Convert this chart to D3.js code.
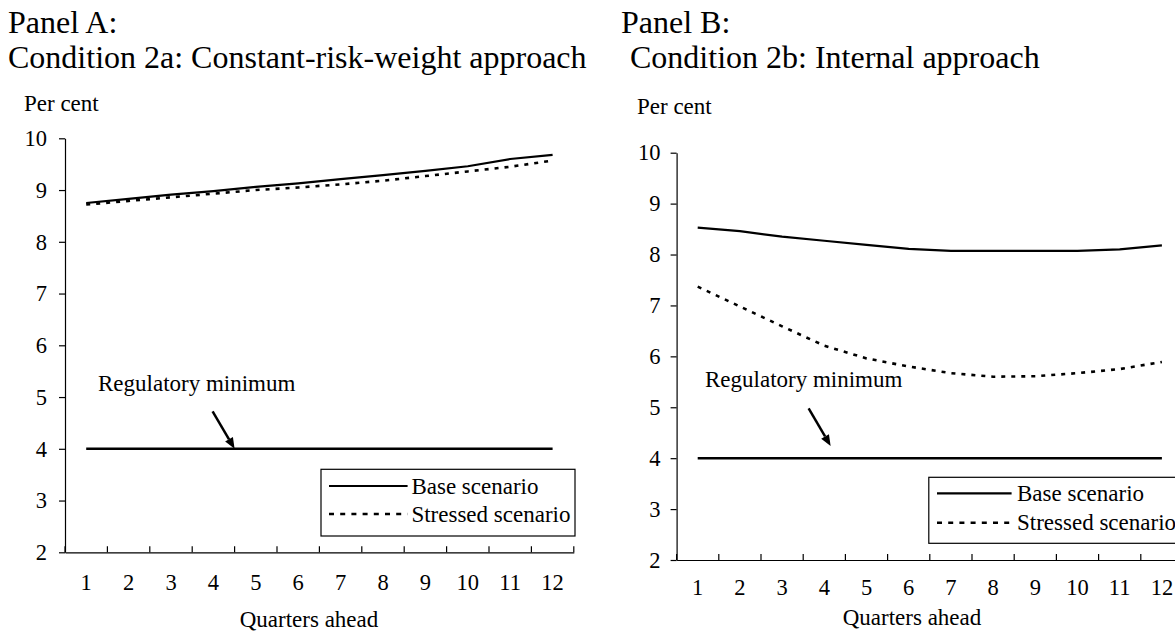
<!DOCTYPE html>
<html>
<head>
<meta charset="utf-8">
<script src="https://cdn.jsdelivr.net/npm/d3@7"></script>
<style>
  html, body { margin: 0; padding: 0; background: #fff; }
  svg { display: block; }
  text { font-family: "Liberation Serif", "Times New Roman", serif; fill: #000; }
</style>
</head>
<body>
<svg id="chart" width="1175" height="632"></svg>
<script>
// ---------------- data ----------------
const quarters = [1, 2, 3, 4, 5, 6, 7, 8, 9, 10, 11, 12];
const yTicks = [2, 3, 4, 5, 6, 7, 8, 9, 10];

const panelTitles = ["Panel A:", "Panel B:"];
const panelSubtitles = ["Condition 2a: Constant-risk-weight approach", "Condition 2b: Internal approach"];

// Panel A: constant-risk-weight approach
const baseA     = [8.75, 8.83, 8.91, 8.98, 9.06, 9.13, 9.21, 9.29, 9.37, 9.46, 9.60, 9.68];
const stressedA = [8.72, 8.79, 8.86, 8.93, 9.00, 9.05, 9.11, 9.18, 9.27, 9.36, 9.45, 9.57];
// Panel B: internal approach
const baseB     = [8.53, 8.46, 8.35, 8.27, 8.19, 8.11, 8.07, 8.07, 8.07, 8.07, 8.10, 8.18];
const stressedB = [7.37, 6.98, 6.59, 6.21, 5.96, 5.80, 5.67, 5.60, 5.61, 5.67, 5.75, 5.89];
// Regulatory minimum (both panels)
const regMin    = [4, 4, 4, 4, 4, 4, 4, 4, 4, 4, 4, 4];

const legendLabels = ["Base scenario", "Stressed scenario"];
const annotationLabel = "Regulatory minimum";
// arrow tip: [quarter position (band units from left edge), value]
const arrowTipA = [4.0, 4.0];
const arrowTipB = [3.65, 4.24];

// ---------------- layout ----------------
const svg = d3.select("#chart");

const panels = [
  {
    title: panelTitles[0], subtitle: panelSubtitles[0],
    titleX: 8, subX: 8,
    x0: 65, bw: 42.4, yTop: 138.3, yBot: 552.3,
    base: baseA, stressed: stressedA, tip: arrowTipA,
    tickPad: 12, xLabelDy: 33, xTitleY: 619, xTitleX: 309, perX: 24, perY: 103,
    regX: 98, regY: 391,
    legend: { x: 321, y: 469.3, w: 254, h: 66.7, l1: 486, l2: 514, lx0: 329, lx1: 407.6, tx: 411.4 }
  },
  {
    title: panelTitles[1], subtitle: panelSubtitles[1],
    titleX: 621, subX: 630,
    x0: 676.6, bw: 42.2, yTop: 152.7, yBot: 560,
    base: baseB, stressed: stressedB, tip: arrowTipB,
    tickPad: 10, xLabelDy: 30, xTitleY: 617, xTitleX: 912, perX: 637, perY: 106,
    regX: 705, regY: 387,
    legend: { x: 928.8, y: 477.3, w: 280, h: 66, l1: 493.3, l2: 522.7, lx0: 937, lx1: 1011.6, tx: 1017 }
  }
];

panels.forEach(p => {
  const g = svg.append("g");

  // titles
  g.append("text").attr("x", p.titleX).attr("y", 33).attr("font-size", 32).text(p.title);
  g.append("text").attr("x", p.subX).attr("y", 68).attr("font-size", 32).text(p.subtitle);

  const x = d3.scaleBand().domain(quarters).range([p.x0, p.x0 + p.bw * quarters.length]).padding(0);
  const y = d3.scaleLinear().domain([2, 10]).range([p.yBot, p.yTop]);
  const cx = q => x(q) + x.bandwidth() / 2;

  // y axis
  const yAxis = d3.axisLeft(y).tickValues(yTicks).tickSize(6).tickSizeOuter(0).tickPadding(p.tickPad);
  const yg = g.append("g").attr("transform", `translate(${p.x0},0)`).call(yAxis);
  yg.select(".domain").attr("stroke", "#000").attr("stroke-width", 1.2);
  yg.selectAll(".tick line").attr("stroke", "#000").attr("stroke-width", 1.2);
  yg.selectAll(".tick text").attr("font-size", 22.5).attr("font-family", "Liberation Serif").attr("fill", "#000");

  // x axis: labels at band centres, tick marks at band boundaries pointing up
  const xAxis = d3.axisBottom(x).tickSize(0).tickSizeOuter(0).tickPadding(p.xLabelDy - 11);
  const xg = g.append("g").attr("transform", `translate(0,${p.yBot})`).call(xAxis);
  xg.select(".domain").attr("stroke", "#000").attr("stroke-width", 1.2);
  xg.selectAll(".tick text").attr("font-size", 22.5).attr("font-family", "Liberation Serif").attr("fill", "#000");
  const bounds = quarters.map(q => x(q)).concat([x.range()[1]]);
  g.append("g").selectAll("line").data(bounds).join("line")
    .attr("x1", d => d).attr("x2", d => d)
    .attr("y1", p.yBot).attr("y2", p.yBot - 6)
    .attr("stroke", "#000").attr("stroke-width", 1.2);

  // axis titles
  g.append("text").attr("x", p.perX).attr("y", p.perY).attr("dominant-baseline", "central")
    .attr("font-size", 23).text("Per cent");
  g.append("text").attr("x", p.xTitleX).attr("y", p.xTitleY)
    .attr("dominant-baseline", "central").attr("text-anchor", "middle")
    .attr("font-size", 23).text("Quarters ahead");

  // lines
  const line = d3.line().x((d, i) => cx(quarters[i])).y(d => y(d));
  g.append("path").datum(regMin).attr("d", line).attr("fill", "none")
    .attr("stroke", "#000").attr("stroke-width", 2.4);
  g.append("path").datum(p.base).attr("d", line).attr("fill", "none")
    .attr("stroke", "#000").attr("stroke-width", 2.2);
  g.append("path").datum(p.stressed).attr("d", line).attr("fill", "none")
    .attr("stroke", "#000").attr("stroke-width", 2.6).attr("stroke-dasharray", "4,6");

  // annotation
  g.append("text").attr("x", p.regX).attr("y", p.regY).attr("font-size", 23).text(annotationLabel);
  const tipX = p.x0 + p.tip[0] * x.bandwidth();
  const tipY = y(p.tip[1]);
  const sx = tipX - 22, sy = tipY - 37.5;
  const ang = Math.atan2(tipY - sy, tipX - sx);
  const hl = 11, hw = 4.5;
  const bx = tipX - hl * Math.cos(ang), by = tipY - hl * Math.sin(ang);
  g.append("line").attr("x1", sx).attr("y1", sy).attr("x2", bx).attr("y2", by)
    .attr("stroke", "#000").attr("stroke-width", 2.5);
  g.append("path")
    .attr("d", `M${tipX},${tipY} L${bx + hw * Math.sin(ang)},${by - hw * Math.cos(ang)} L${bx - hw * Math.sin(ang)},${by + hw * Math.cos(ang)} Z`)
    .attr("fill", "#000");

  // legend
  const L = p.legend;
  g.append("rect").attr("x", L.x).attr("y", L.y).attr("width", L.w).attr("height", L.h)
    .attr("fill", "#fff").attr("stroke", "#000").attr("stroke-width", 1.2);
  g.append("line").attr("x1", L.lx0).attr("x2", L.lx1).attr("y1", L.l1).attr("y2", L.l1)
    .attr("stroke", "#000").attr("stroke-width", 2.2);
  g.append("line").attr("x1", L.lx0).attr("x2", L.lx1).attr("y1", L.l2).attr("y2", L.l2)
    .attr("stroke", "#000").attr("stroke-width", 2.6).attr("stroke-dasharray", "5,6.2");
  g.append("text").attr("x", L.tx).attr("y", L.l1).attr("dominant-baseline", "central")
    .attr("font-size", 23).text(legendLabels[0]);
  g.append("text").attr("x", L.tx).attr("y", L.l2).attr("dominant-baseline", "central")
    .attr("font-size", 23).text(legendLabels[1]);
});
</script>
</body>
</html>
